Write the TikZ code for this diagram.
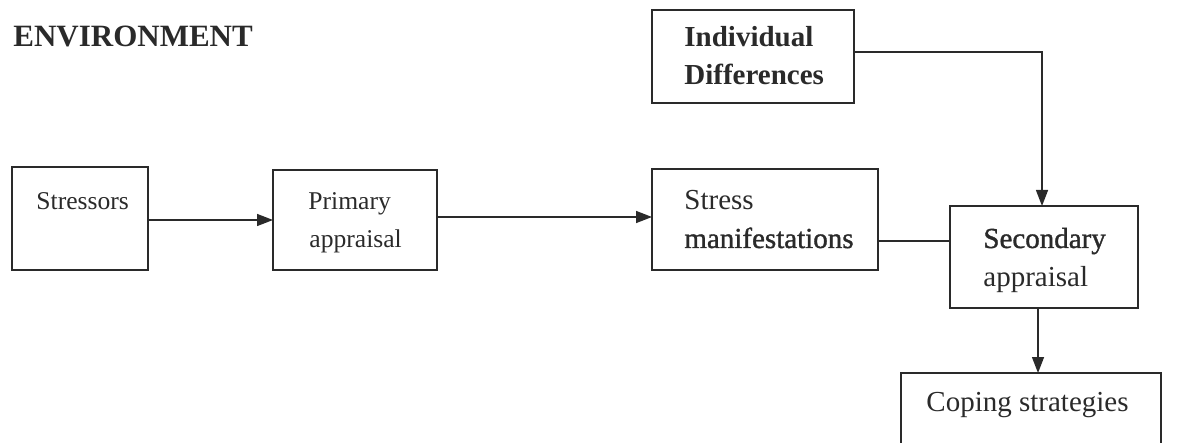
\documentclass[tikz,border=0pt]{standalone}
\usepackage{fontspec}
\setmainfont{Liberation Serif}
\newfontfamily\heavyfont[FakeBold=1.2]{Liberation Serif}
\usetikzlibrary{arrows.meta}
\definecolor{ink}{HTML}{2A2A2A}
\begin{document}
\begin{tikzpicture}[x=0.5pt,y=-0.5pt,
  boxline/.style={draw=ink,line width=0.7pt},
  lbl/.style={anchor=base west,inner sep=0pt,text=ink,font=\fontsize{14.5}{17}\selectfont},
  lblsmall/.style={lbl,font=\fontsize{12.8}{15}\selectfont},
  link/.style={draw=ink,line width=0.7pt},
  arrow/.style={link,-{Triangle[length=8pt,width=6pt]}}]
\useasboundingbox (0,0) rectangle (1204,443);
\begin{scope}
\clip (0,0) rectangle (1204,443);
% boxes, given by their corners in px
\path[boxline] (652,10) rectangle (854,103);
\path[boxline] (12,167) rectangle (148,270);
\path[boxline] (273,170) rectangle (437,270);
\path[boxline] (652,169) rectangle (878,270);
\path[boxline] (950,206) rectangle (1138,308);
\path[boxline] (901,373) rectangle (1161,470);
% named anchor points on the box edges
\coordinate (ind-e) at (854,52);
\coordinate (str-e) at (148,220);
\coordinate (pri-w) at (273,220);
\coordinate (pri-e) at (437,217);
\coordinate (man-w) at (652,217);
\coordinate (man-e) at (878,241);
\coordinate (sec-w) at (950,241);
\coordinate (sec-n) at (1042,206);
\coordinate (sec-s) at (1038,308);
\coordinate (cop-n) at (1038,373);
\coordinate (turn) at (1042,52);
\end{scope}
% texts
\node[lbl,font=\bfseries\fontsize{15.5}{18}\selectfont] (env) at (13,47) {ENVIRONMENT};
\node[lbl,font=\bfseries\fontsize{14.5}{17}\selectfont] (ind1) at (684,47) {Individual};
\node[lbl,font=\bfseries\fontsize{14.5}{17}\selectfont] (ind2) at (684,85) {Differences};
\node[lblsmall] (stressors) at (36,210) {Stressors};
\node[lblsmall] (pri1) at (308,210) {Primary};
\node[lblsmall] (pri2) at (309,248) {appraisal};
\node[lbl] (man1) at (684,210) {Stress};
\node[lbl,font=\heavyfont\fontsize{14.5}{17}\selectfont] (man2) at (684,248) {manifestations};
\node[lbl,font=\heavyfont\fontsize{14.5}{17}\selectfont] (sec1) at (983,248) {Secondary};
\node[lbl] (sec2) at (983,286) {appraisal};
\node[lbl] (cop) at (926,411) {Coping strategies};
% connectors
\draw[arrow] (str-e) -- (pri-w);
\draw[arrow] (pri-e) -- (man-w);
\draw[link] (man-e) -- (sec-w);
\draw[arrow] (ind-e) -- (turn) -- (sec-n);
\draw[arrow] (sec-s) -- (cop-n);
\end{tikzpicture}
\end{document}
